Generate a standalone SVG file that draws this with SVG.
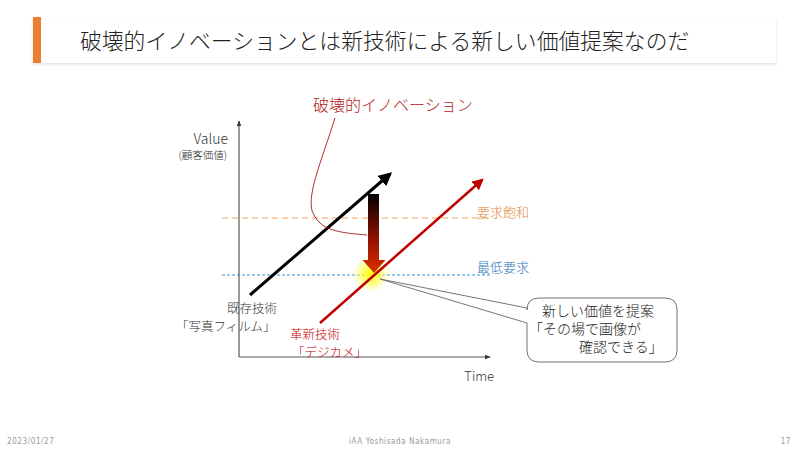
<svg xmlns="http://www.w3.org/2000/svg" width="800" height="449" viewBox="0 0 800 449">
<defs>
<style>
text{font-family:"Noto Sans CJK JP","Noto Sans",sans-serif;font-weight:300;}
.lbl{font-size:12.5px;fill:#333;}
.red{fill:#c00000;}
.foot{font-size:8px;fill:#999;letter-spacing:0.6px;font-family:"DejaVu Sans Condensed","Liberation Sans",sans-serif;}
.ax{stroke:#555;stroke-width:1.2;fill:none;}
</style>
<marker id="axh" viewBox="0 0 10 10" refX="9" refY="5" markerWidth="5" markerHeight="5" orient="auto"><path d="M0,1 L10,5 L0,9 z" fill="#333"/></marker>
<marker id="blkh" viewBox="0 0 10 10" refX="8" refY="5" markerWidth="4.5" markerHeight="4.5" orient="auto"><path d="M0,0 L10,5 L0,10 z" fill="#000"/></marker>
<marker id="redh" viewBox="0 0 10 10" refX="8" refY="5" markerWidth="4.5" markerHeight="4.5" orient="auto"><path d="M0,0 L10,5 L0,10 z" fill="#c00000"/></marker>
<linearGradient id="dg" x1="0" y1="0" x2="0" y2="1"><stop offset="0" stop-color="#000"/><stop offset="0.55" stop-color="#8a1000"/><stop offset="1" stop-color="#e03000"/></linearGradient>
<radialGradient id="glow"><stop offset="0" stop-color="#ffff00" stop-opacity="1"/><stop offset="0.5" stop-color="#ffff40" stop-opacity="0.7"/><stop offset="1" stop-color="#ffffa0" stop-opacity="0"/></radialGradient>
<filter id="sh" x="-5%" y="-30%" width="110%" height="160%"><feDropShadow dx="0" dy="1.5" stdDeviation="1.5" flood-color="#000" flood-opacity="0.12"/></filter>
</defs>
<rect width="800" height="449" fill="#fff"/>
<g id="title">
<rect x="33" y="17" width="743" height="46" fill="#fff" filter="url(#sh)"/>
<rect x="33" y="17" width="8" height="46" fill="#ed7d31"/>
<text x="80" y="49" font-size="21.8" fill="#222">破壊的イノベーションとは新技術による新しい価値提案なのだ</text>
</g>
<g id="connectors">
<line class="ax" x1="239" y1="357" x2="239" y2="121" marker-end="url(#axh)"/>
<line class="ax" x1="239" y1="357" x2="490" y2="357" marker-end="url(#axh)"/>
<line x1="222" y1="218" x2="490" y2="218" stroke="#f4a460" stroke-width="1" stroke-dasharray="6,4"/>
<line x1="222" y1="275" x2="490" y2="275" stroke="#3d8fd0" stroke-width="1" stroke-dasharray="3,2"/>
<circle cx="371" cy="274" r="19" fill="url(#glow)"/>
<line x1="250" y1="295" x2="390" y2="174" stroke="#000" stroke-width="3" marker-end="url(#blkh)"/>
<line x1="320" y1="323" x2="482" y2="180" stroke="#c00000" stroke-width="2.5" marker-end="url(#redh)"/>
<path d="M368,194 H379 V260 H385.5 L374,273 L362.5,260 H368 Z" fill="url(#dg)"/>
<path d="M335,118 C322,160 304,200 314,215 C322,232 345,233 367,235" fill="none" stroke="#a31818" stroke-width="0.9"/>
</g>
<g id="axis-labels">
<text x="228" y="144" font-size="14" fill="#333" text-anchor="end">Value</text>
<text x="227" y="159" font-size="10.5" fill="#333" text-anchor="end">(顧客価値)</text>
<text x="494" y="381" font-size="13" fill="#333" text-anchor="end">Time</text>
</g>
<g id="innovation-label">
<text x="313" y="111" font-size="16" fill="#b01c1c">破壊的イノベーション</text>
</g>
<g id="saturation-label">
<text x="477" y="217" font-size="13" fill="#e0883c">要求飽和</text>
</g>
<g id="minimum-label">
<text x="477" y="272" font-size="13" fill="#2e75b6">最低要求</text>
</g>
<g id="existing-tech">
<text class="lbl" x="227" y="313">既存技術</text>
<text class="lbl" x="176" y="331">「写真フィルム」</text>
</g>
<g id="new-tech">
<text class="lbl red" x="290" y="339">革新技術</text>
<text class="lbl red" x="292" y="357">「デジカメ」</text>
</g>
<g id="callout">
<path d="M539,298 H665 Q677,298 677,310 V350 Q677,362 665,362 H539 Q527,362 527,350 V323 L380,279 L527,308 V310 Q527,298 539,298 Z" fill="#fff" stroke="#666" stroke-width="0.9"/>
<text x="542" y="316" font-size="14" fill="#222">新しい価値を提案</text>
<text x="529" y="334" font-size="14" fill="#222">「その場で画像が</text>
<text x="579" y="352" font-size="14" fill="#222">確認できる」</text>
</g>
<g id="footer">
<text class="foot" x="7" y="444">2023/01/27</text>
<text class="foot" x="400" y="444" text-anchor="middle">iAA Yoshisada Nakamura</text>
<text class="foot" x="791" y="444" text-anchor="end">17</text>
</g>
</svg>
